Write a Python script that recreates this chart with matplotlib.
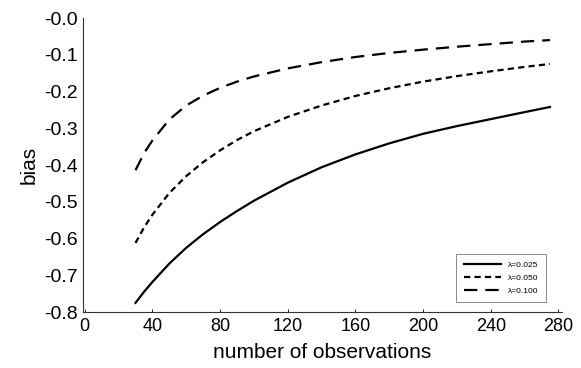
import matplotlib.pyplot as plt
from matplotlib.ticker import FuncFormatter

# values
n_obs = [30, 35, 40, 50, 60, 70, 80, 90, 100, 120, 140, 160, 180, 200, 220, 240, 260, 275]
bias_025 = [-0.775, -0.745, -0.718, -0.668, -0.625, -0.588, -0.555, -0.525, -0.497, -0.448,
            -0.406, -0.371, -0.341, -0.315, -0.294, -0.275, -0.256, -0.242]
bias_050 = [-0.612, -0.570, -0.535, -0.476, -0.430, -0.392, -0.360, -0.332, -0.308, -0.269,
            -0.238, -0.212, -0.191, -0.173, -0.158, -0.145, -0.133, -0.125]
bias_100 = [-0.414, -0.368, -0.333, -0.276, -0.238, -0.211, -0.190, -0.173, -0.159, -0.137,
            -0.120, -0.106, -0.095, -0.086, -0.078, -0.071, -0.064, -0.060]
labels = ['λ=0.025', 'λ=0.050', 'λ=0.100']
x_ticks = [0, 40, 80, 120, 160, 200, 240, 280]
y_ticks = [0.0, -0.1, -0.2, -0.3, -0.4, -0.5, -0.6, -0.7, -0.8]

plt.rcParams['font.family'] = ['Liberation Sans', 'DejaVu Sans']

fig = plt.figure(figsize=(5.81, 3.68), dpi=100)
ax = fig.add_axes([0.143, 0.152, 0.824, 0.799])

style = dict(color='black', lw=1.6, solid_joinstyle='round', dash_capstyle='butt')
ax.plot(n_obs, bias_025, label=labels[0], **style)
ax.plot(n_obs, bias_050, dashes=(2.8, 1.9), label=labels[1], **style)
ax.plot(n_obs, bias_100, dashes=(6.0, 3.6), label=labels[2], **style)

ax.set_xlim(-1, 282)
ax.set_ylim(-0.8, 0.0)
ax.set_xticks(x_ticks)
ax.set_yticks(y_ticks)
ax.yaxis.set_major_formatter(FuncFormatter(lambda v, p: '-%.1f' % abs(v)))

for side in ['top', 'right']:
    ax.spines[side].set_visible(False)
for side in ['left', 'bottom']:
    ax.spines[side].set_linewidth(0.8)
    ax.spines[side].set_color('#333333')

ax.tick_params(axis='x', direction='in', length=2, width=0.6, labelsize=13, pad=4)
ax.tick_params(axis='y', length=0, labelsize=14, pad=4)

ax.set_xlabel('number of observations', fontsize=15, labelpad=6)
ax.set_ylabel('bias', fontsize=15, labelpad=4)

leg = ax.legend(loc='lower right', bbox_to_anchor=(0.975, 0.02), fontsize=6,
                frameon=True, fancybox=False, handlelength=4.5,
                borderpad=0.9, labelspacing=0.6)
leg.get_frame().set_edgecolor('#555555')
leg.get_frame().set_linewidth(0.6)

fig.savefig('out.png', dpi=100)
